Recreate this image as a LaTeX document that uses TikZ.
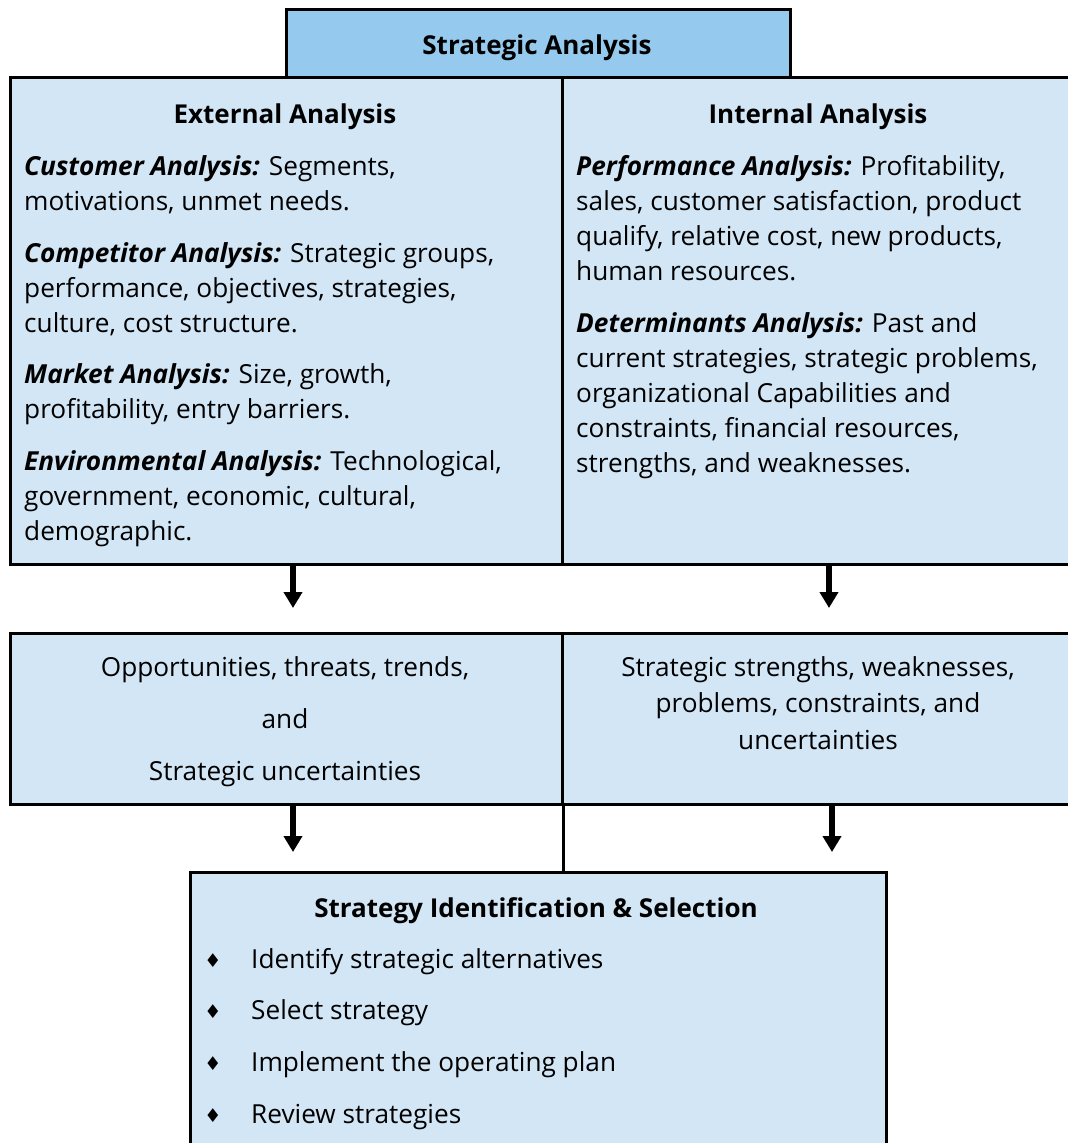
\documentclass[tikz,border=0pt]{standalone}
\usepackage{fontspec}
\setmainfont{Open Sans}
\newfontfamily\symfont{DejaVu Sans}
\usetikzlibrary{arrows.meta,positioning}
\definecolor{headblue}{RGB}{149,202,238}
\definecolor{boxblue}{RGB}{211,230,245}
\tikzset{
  box/.style={draw=black, line width=2.5pt, fill=boxblue, anchor=north west, inner sep=0pt},
  body/.style={font=\fontsize{26.2}{34.9}\selectfont, inner sep=0pt},
  bodyleft/.style={body, align=left, anchor=base west},
  bodymid/.style={body, align=center, anchor=base},
  title/.style={font=\fontsize{26}{30}\selectfont\bfseries, inner sep=0pt, anchor=base},
  downarrow/.style={line width=5.5pt, -{Triangle[width=18pt,length=16pt]}},
}
\begin{document}
\begin{tikzpicture}[x=1pt,y=-1pt]
    \useasboundingbox (0,0) rectangle (1068,1143);
    \clip (0,0) rectangle (1068,1143);

    \node[box, fill=headblue, minimum width=504, minimum height=68] (top) at (285,8) {};
    \node[box, minimum width=552, minimum height=487] (ext) at (9,76) {};
    \node[box, minimum width=530, minimum height=487] (int) at (561,76) {};
    \node[box, minimum width=552, minimum height=171] (midL) at (9,632) {};
    \node[box, minimum width=530, minimum height=171] (midR) at (561,632) {};
    \node[box, minimum width=696, minimum height=300] (sel) at (189,871) {};

    \node[title] (topHead) at (537,54) {Strategic Analysis};
    \node[title] (extHead) at (285,123) {External Analysis};
    \node[title] (intHead) at (818,123) {Internal Analysis};
    \node[title] (selHead) at (536,917) {Strategy Identification \& Selection};

    % anchor base = baseline of the last line
    \node[bodyleft] (extText) at (24,540) {%
        \textbf{\textit{Customer Analysis:}} Segments,\\
        motivations, unmet needs.\\[16.7pt]
        \textbf{\textit{Competitor Analysis:}} Strategic groups,\\
        performance, objectives, strategies,\\
        culture, cost structure.\\[16.7pt]
        \textbf{\textit{Market Analysis:}} Size, growth,\\
        profitability, entry barriers.\\[16.7pt]
        \textbf{\textit{Environmental Analysis:}} Technological,\\
        government, economic, cultural,\\
        demographic.};
    \node[bodyleft] (intText) at (576,472) {%
        \textbf{\textit{Performance Analysis:}} Profitability,\\
        sales, customer satisfaction, product\\
        qualify, relative cost, new products,\\
        human resources.\\[17pt]
        \textbf{\textit{Determinants Analysis:}} Past and\\
        current strategies, strategic problems,\\
        organizational Capabilities and\\
        constraints, financial resources,\\
        strengths, and weaknesses.};

    \node[bodymid] (midLText) at (285,780) {%
        Opportunities, threats, trends,\\[17pt]
        and\\[17pt]
        Strategic uncertainties};
    \node[bodymid, font=\fontsize{26.2}{36.5}\selectfont] (midRText) at (818,749) {%
        Strategic strengths, weaknesses,\\
        problems, constraints, and\\
        uncertainties};

    \foreach \item [count=\i] in {Identify strategic alternatives, Select strategy,
        Implement the operating plan, Review strategies} {
        \node[body, anchor=base, font=\symfont\fontsize{19}{22}\selectfont] (dot\i) at (213,{967+(\i-1)*51.7}) {♦};
        \node[bodyleft] (item\i) at (251,{968+(\i-1)*51.7}) {\item};
    }

    \coordinate (tipA) at (293,608);
    \coordinate (tipB) at (829,608);
    \coordinate (tipC) at (293,852);
    \coordinate (tipD) at (832,852);
    \draw[downarrow] (tipA |- ext.south) -- (tipA);
    \draw[downarrow] (tipB |- int.south) -- (tipB);
    \draw[downarrow] (tipC |- midL.south) -- (tipC);
    \draw[downarrow] (tipD |- midR.south) -- (tipD);
    \draw[line width=2.5pt] (midL.south east) -- (midL.south east |- sel.north);
\end{tikzpicture}
\end{document}
